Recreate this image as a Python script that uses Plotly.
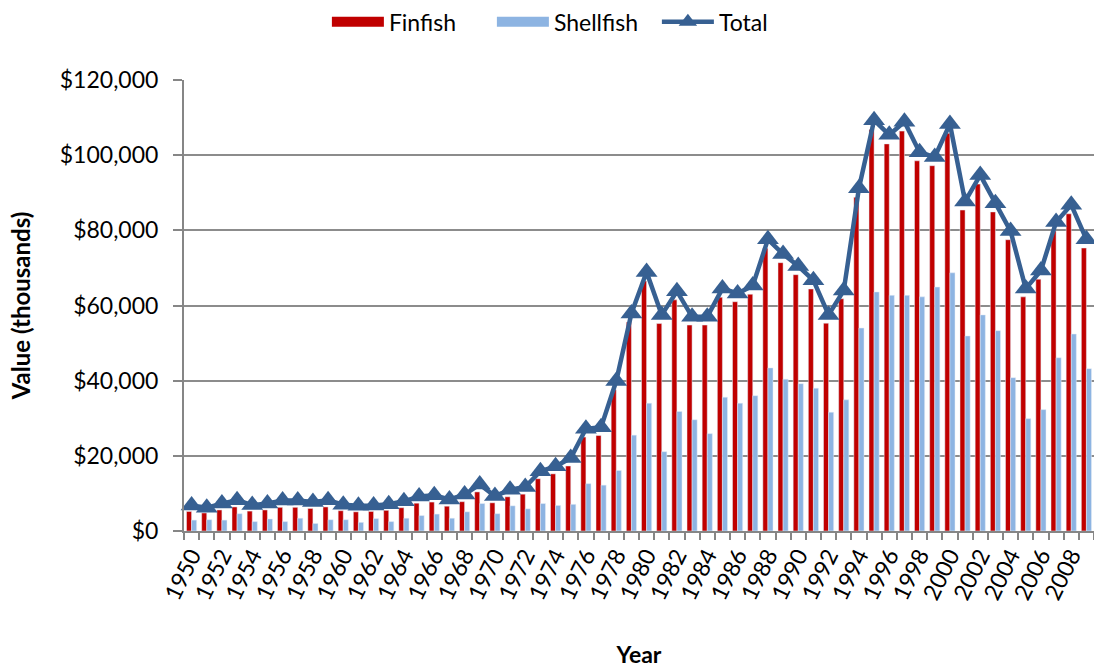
import plotly.graph_objects as go

# Commercial landings value, 1950-2009 (thousands of dollars)
years = [str(y) for y in range(1950, 2010)]

finfish = [5200, 4800, 5600, 6400, 5300, 5600, 6300, 6300, 6000, 6400,
           5400, 5100, 5200, 5500, 6200, 7400, 7700, 6600, 7800, 10400,
           7500, 9100, 9800, 13900, 15200, 17300, 25000, 25400, 37600, 55600,
           66500, 55200, 61500, 54800, 54800, 62200, 61000, 63000, 75200, 71400,
           68200, 64400, 55300, 61800, 88800, 106800, 103000, 106400, 98500, 97200,
           105800, 85400, 92300, 84900, 77500, 62300, 67000, 79800, 84400, 75300]

shellfish = [2900, 3000, 2900, 4600, 2500, 3200, 2500, 3400, 2000, 3000,
             3000, 2300, 3300, 2500, 3400, 4100, 4500, 3400, 5100, 7300,
             4600, 6700, 5900, 7300, 6800, 7100, 12600, 12200, 16100, 25500,
             34000, 21100, 31800, 29600, 25900, 35600, 34000, 36000, 43400, 40400,
             39200, 38000, 31600, 34900, 54000, 63600, 62700, 62700, 62300, 64900,
             68700, 51900, 57500, 53300, 40800, 29900, 32300, 46100, 52400, 43200]

total = [6800, 6200, 7300, 8200, 6900, 7300, 8100, 8100, 7700, 8200,
         7000, 6700, 6800, 7100, 7900, 9200, 9500, 8400, 9700, 12400,
         9300, 11000, 11700, 15900, 17200, 19400, 27200, 27600, 39900, 57900,
         68900, 57500, 63800, 57000, 57000, 64500, 63200, 65300, 77600, 73700,
         70500, 66700, 57500, 64000, 91200, 109300, 105400, 108900, 100800, 99500,
         108300, 87700, 94700, 87200, 79800, 64500, 69300, 82200, 86800, 77600]

tick_text = [y if int(y) % 2 == 0 else "" for y in years]

FONT = "Lato, 'Liberation Sans', sans-serif"
RED = "#C00000"
BLUE = "#8DB4E2"
NAVY = "#376092"

fig = go.Figure()
fig.add_trace(go.Bar(x=years, y=finfish, name="Finfish", marker_color=RED, showlegend=False))
fig.add_trace(go.Bar(x=years, y=shellfish, name="Shellfish", marker_color=BLUE, showlegend=False))
fig.add_trace(go.Scatter(
    x=years, y=total, name="Total", mode="lines+markers", showlegend=False,
    line=dict(color=NAVY, width=4.5), cliponaxis=False,
    marker=dict(symbol="triangle-up", size=19, color=NAVY),
))

# legend entries with wide swatches like the original
fig.add_trace(go.Scatter(x=[None], y=[None], name="Finfish", mode="lines",
                         line=dict(color=RED, width=14)))
fig.add_trace(go.Scatter(x=[None], y=[None], name="Shellfish", mode="lines",
                         line=dict(color=BLUE, width=14)))
fig.add_trace(go.Scatter(x=[None], y=[None], name="Total", mode="lines+markers",
                         line=dict(color=NAVY, width=4.5),
                         marker=dict(symbol="triangle-up", size=16, color=NAVY)))

fig.update_layout(
    width=1094, height=668,
    margin=dict(l=184, r=0, t=74, b=137),
    plot_bgcolor="white", paper_bgcolor="white",
    font=dict(family=FONT, size=23, color="black"),
    barmode="group", bargap=0.33, bargroupgap=0,
    legend=dict(orientation="h", x=0.429, xanchor="center", y=1.129, yanchor="middle",
                font=dict(size=23), traceorder="normal", itemwidth=52, entrywidth=98),
    xaxis=dict(
        type="category", tickson="boundaries", tickvals=years, ticktext=tick_text,
        tickangle=-64, ticks="outside", ticklen=7, tickcolor="#868686", tickwidth=2,
        showline=True, linecolor="#868686", linewidth=2, showgrid=False,
        tickfont=dict(size=23), automargin=False,
        title=dict(text="<b>Year</b>", font=dict(size=23), standoff=44),
        range=[-0.5, 59.5],
    ),
    yaxis=dict(
        range=[0, 120000], dtick=20000, tickprefix="$", tickformat=",",
        ticks="outside", ticklen=9, tickcolor="#868686", tickwidth=2,
        showline=True, linecolor="#868686", linewidth=2,
        showgrid=True, gridcolor="#8c8c8c", gridwidth=2,
        tickfont=dict(size=23), automargin=False, ticklabelstandoff=10,
        title=dict(text="<b>Value (thousands)</b>", font=dict(size=24), standoff=22),
        zeroline=False,
    ),
)

# drop the default 8px page margin so the figure fills the window
fig.write_html("out.html", config={"displayModeBar": False},
               post_script="document.body.style.margin='0';")
